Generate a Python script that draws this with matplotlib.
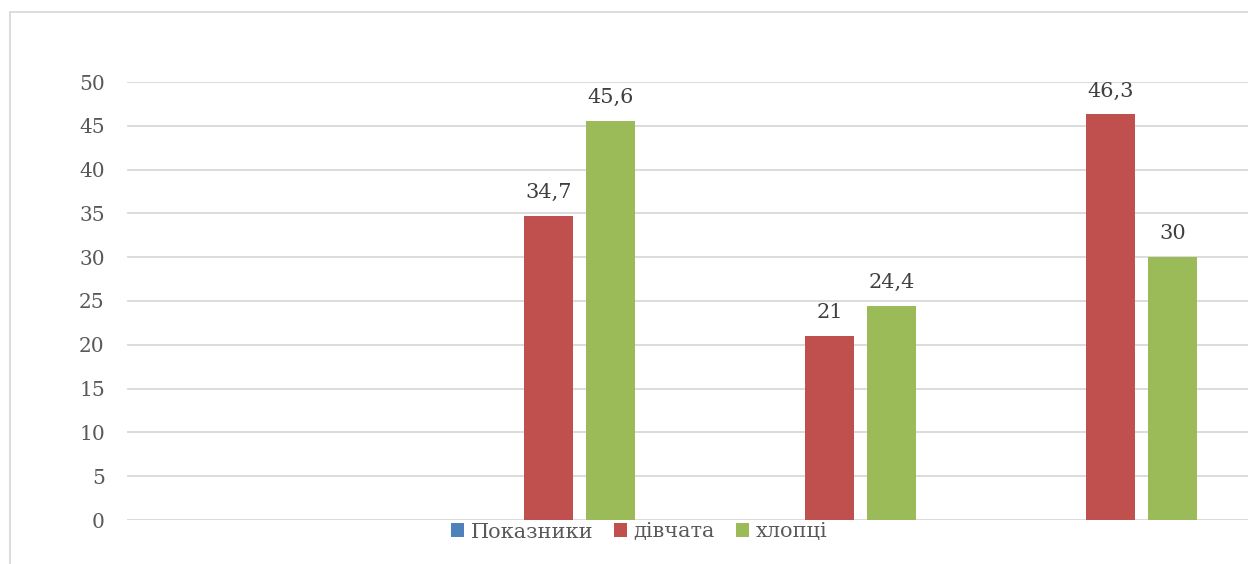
import numpy as np
import matplotlib.pyplot as plt
from matplotlib.patches import Rectangle

# chart data (first category has no values, "Показники" series is empty)
categories = ['', '', '', '']
series_names = ['Показники', 'дівчата', 'хлопці']
pokaznyky = [np.nan, np.nan, np.nan, np.nan]
divchata = [np.nan, 34.7, 21, 46.3]
khloptsi = [np.nan, 45.6, 24.4, 30]

colors = ['#4F81BD', '#C0504D', '#9BBB59']
plt.rcParams['font.family'] = ['DejaVu Serif']

fig = plt.figure(figsize=(12.48, 5.64), dpi=100)
ax = fig.add_axes([127/1248, 1 - 520/564, 1124/1248, 438/564])

x = np.arange(len(categories))
step = 0.2206
width = 0.174
for i, (name, vals) in enumerate(zip(series_names, [pokaznyky, divchata, khloptsi])):
    vals = np.array(vals, dtype=float)
    pos = x + (i - 1) * step
    ax.bar(pos, np.nan_to_num(vals), width, color=colors[i], label=name, zorder=3)
    for p, v in zip(pos, vals):
        if not np.isnan(v):
            ax.annotate(f'{v:g}'.replace('.', ','), (p, v), xytext=(0, 10),
                        textcoords='offset points', ha='center', va='bottom',
                        fontsize=15, color='#404040')

ax.set_xlim(-0.5, len(categories) - 0.5)
ax.set_ylim(0, 50)
ax.set_yticks(range(0, 51, 5))
ax.set_xticks([])
ax.grid(axis='y', color='#d9d9d9', linewidth=1.3, zorder=0)
for s in ax.spines.values():
    s.set_visible(False)
ax.tick_params(axis='y', length=0, pad=16, labelsize=14.5, labelcolor='#595959')

leg = fig.legend(loc='center', bbox_to_anchor=(639/1248, 1 - 532/564), ncol=3,
                 frameon=False, fontsize=15, handlelength=0.65, handleheight=0.65,
                 handletextpad=0.3, columnspacing=1.0)
for t in leg.get_texts():
    t.set_color('#595959')

# outer chart frame (cut off on the right and bottom)
fig.patches.append(Rectangle((10/1248, -0.1), 1.2, 1 - 12/564 + 0.1,
                             transform=fig.transFigure, fill=False,
                             edgecolor='#d9d9d9', linewidth=1.3))

fig.savefig('out.png', dpi=100)
